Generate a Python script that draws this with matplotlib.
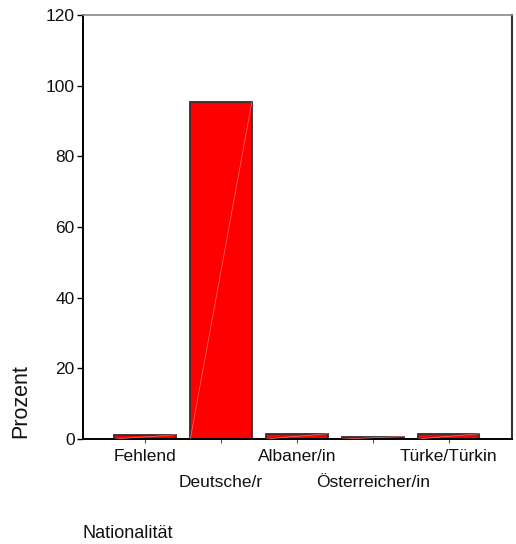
import matplotlib.pyplot as plt
import numpy as np

plt.rcParams['font.family'] = ['Liberation Sans', 'DejaVu Sans']

categories = ['Fehlend', 'Deutsche/r', 'Albaner/in', 'Österreicher/in', 'Türke/Türkin']
prozent = [1.2, 95.3, 1.5, 0.7, 1.5]
y_ticks = [0, 20, 40, 60, 80, 100, 120]

fig = plt.figure(figsize=(5.16, 5.44), dpi=100)
ax = fig.add_axes([83 / 516, 1 - 439 / 544, (512 - 83) / 516, (439 - 15) / 544])

x = np.arange(len(categories))
w = 0.81
ax.bar(x, prozent, width=w, color='#ff0000', edgecolor='#3a2a2a', linewidth=1.3, zorder=2)
# faint diagonal seam inside the bars (as in the original rendering)
for xi, v in zip(x, prozent):
    ax.plot([xi - w / 2, xi + w / 2], [0, v], color='#ff7070', lw=0.5, zorder=3)

ax.set_xlim(-0.82, len(categories) - 1 + 0.835)
ax.set_ylim(0, 120)
ax.set_yticks(y_ticks)
ax.set_yticklabels([str(t) for t in y_ticks], fontsize=12.5, color='#111111')
ax.set_xticks(x)
ax.set_xticklabels(categories, fontsize=12.5, color='#111111')
ax.tick_params(axis='y', direction='out', length=4, width=1, pad=2)
ax.tick_params(axis='x', direction='out', length=3, width=0.8, color='#555555')
for i, t in enumerate(ax.xaxis.get_major_ticks()):
    t.set_pad(4 if i % 2 == 0 else 23)

ax.spines['left'].set_linewidth(1.4)
ax.spines['bottom'].set_linewidth(1.4)
ax.spines['top'].set_color('#888888')
ax.spines['top'].set_linewidth(1.2)
ax.spines['right'].set_color('#333333')
ax.spines['right'].set_linewidth(1.5)

fig.text(21 / 516, 1 - 438 / 544, 'Prozent', rotation=90, ha='center', va='bottom',
         fontsize=15.5, color='#111111')
fig.text(83 / 516, 1 - 533 / 544, 'Nationalität', ha='left', va='center',
         fontsize=13, color='#111111')

fig.savefig('out.png', dpi=100)
